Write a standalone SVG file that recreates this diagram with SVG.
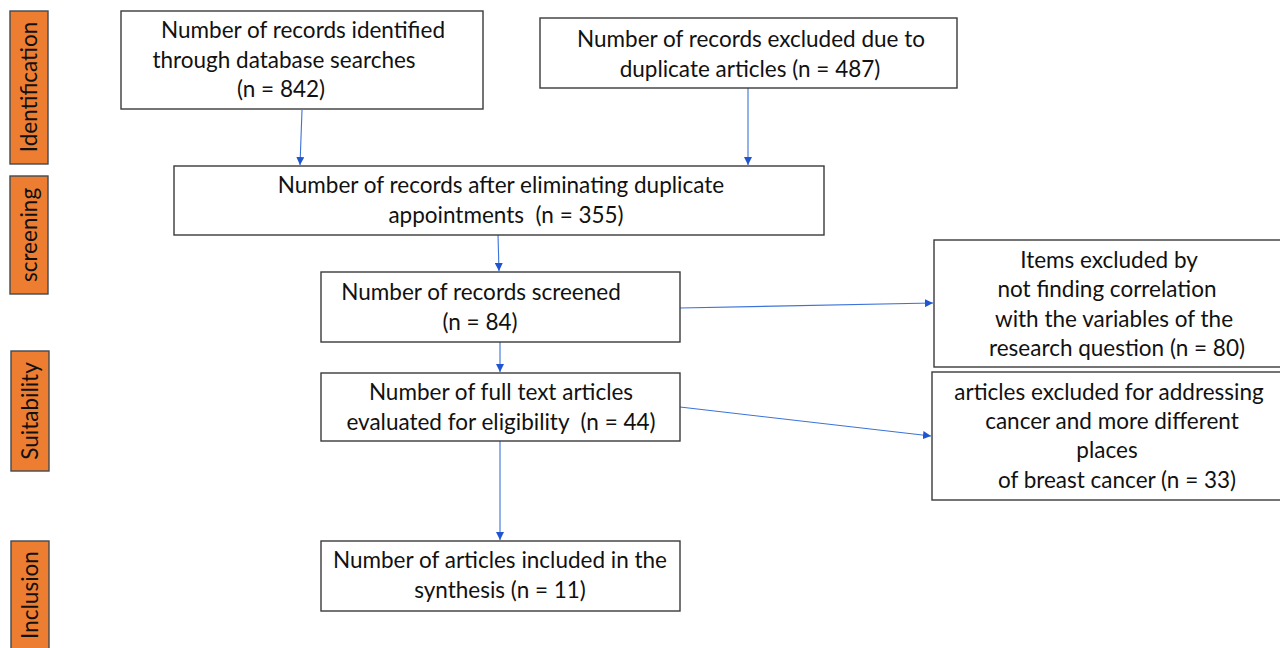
<svg xmlns="http://www.w3.org/2000/svg" width="1280" height="648" viewBox="0 0 1280 648">
<defs>
<style>
.box{fill:#fff;stroke:#3a3a3a;stroke-width:1.4}
.stage{fill:#ED7D31;stroke:#404a52;stroke-width:1.4}
text{font-family:Lato,"Open Sans",sans-serif;font-size:22.5px;fill:#111;text-anchor:middle;white-space:pre}
.conn line{stroke:#3b73d9;stroke-width:1.1;marker-end:url(#ah)}
</style>
<marker id="ah" viewBox="0 0 10 10" refX="10" refY="5" markerWidth="8" markerHeight="8" markerUnits="userSpaceOnUse" orient="auto">
<path d="M0,0 L10,5 L0,10 z" fill="#1f55d0"/>
</marker>
</defs>
<rect width="1280" height="648" fill="#fff"/>

<g id="stage-identification"><rect class="stage" x="10" y="11" width="38" height="153"/><text transform="translate(37,87) rotate(-90)">Identification</text></g>
<g id="stage-screening"><rect class="stage" x="10" y="176" width="38" height="118"/><text transform="translate(37,235) rotate(-90)">screening</text></g>
<g id="stage-suitability"><rect class="stage" x="11" y="351" width="38" height="120"/><text transform="translate(38,411) rotate(-90)">Suitability</text></g>
<g id="stage-inclusion"><rect class="stage" x="11" y="541" width="38" height="110"/><text transform="translate(38,595) rotate(-90)">Inclusion</text></g>

<g class="conn" id="connectors">
<line x1="302" y1="110" x2="300" y2="165"/>
<line x1="748" y1="88" x2="748" y2="165"/>
<line x1="498" y1="235" x2="499" y2="271"/>
<line x1="500" y1="342" x2="500" y2="372"/>
<line x1="500" y1="441" x2="500" y2="540"/>
<line x1="680" y1="308" x2="933" y2="303"/>
<line x1="680" y1="407" x2="931" y2="436"/>
</g>

<g id="n1"><rect class="box" x="121" y="11" width="362" height="98"/>
<text x="303" y="38">Number of records identified</text>
<text x="284" y="68">through database searches</text>
<text x="281" y="97">(n = 842)</text></g>

<g id="n2"><rect class="box" x="540" y="18" width="417" height="70"/>
<text x="751" y="47">Number of records excluded due to</text>
<text x="750" y="77">duplicate articles (n = 487)</text></g>

<g id="n3"><rect class="box" x="174" y="166" width="650" height="69"/>
<text x="501" y="193">Number of records after eliminating duplicate</text>
<text x="506" y="223">appointments  (n = 355)</text></g>

<g id="n4"><rect class="box" x="321" y="272" width="359" height="70"/>
<text x="481" y="300">Number of records screened</text>
<text x="480" y="330">(n = 84)</text></g>

<g id="n5"><rect class="box" x="321" y="373" width="359" height="68"/>
<text x="501" y="400">Number of full text articles</text>
<text x="501" y="430">evaluated for eligibility  (n = 44)</text></g>

<g id="n6"><rect class="box" x="321" y="541" width="359" height="70"/>
<text x="500" y="568">Number of articles included in the</text>
<text x="500" y="598">synthesis (n = 11)</text></g>

<g id="n7"><rect class="box" x="934" y="240" width="350" height="127"/>
<text x="1109" y="268">Items excluded by</text>
<text x="1107" y="297">not finding correlation</text>
<text x="1114" y="327">with the variables of the</text>
<text x="1117" y="356">research question (n = 80)</text></g>

<g id="n8"><rect class="box" x="932" y="372" width="352" height="128"/>
<text x="1109" y="400">articles excluded for addressing</text>
<text x="1112" y="429">cancer and more different</text>
<text x="1107" y="458">places</text>
<text x="1117" y="488">of breast cancer (n = 33)</text></g>
</svg>
